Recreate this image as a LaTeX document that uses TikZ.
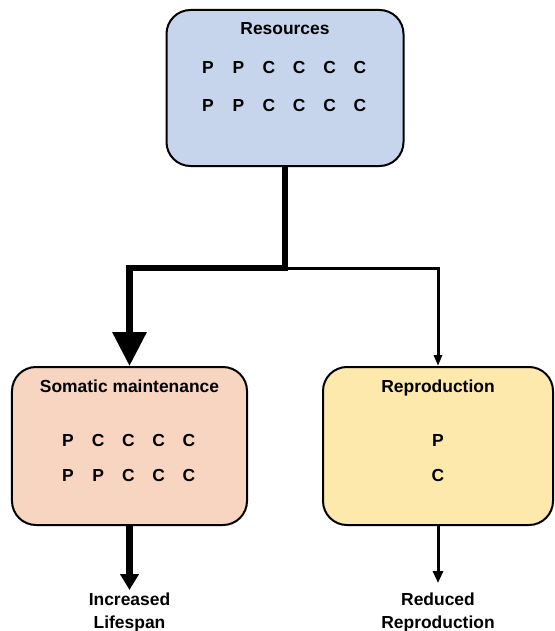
\documentclass[tikz,border=0pt]{standalone}
\usepackage{fontspec}
\setmainfont{Liberation Sans}
\usetikzlibrary{arrows.meta}
\definecolor{resblue}{HTML}{C6D5EC}
\definecolor{sompink}{HTML}{F7D5C1}
\definecolor{repyellow}{HTML}{FEE9AC}
\begin{document}
\begin{tikzpicture}[x=1bp,y=-1bp,
  box/.style={draw=black, line width=2bp, rounded corners=24bp, inner sep=0pt},
  txt/.style={font=\fontsize{17.5}{23}\selectfont\bfseries, inner sep=0pt, anchor=base},
  lbl/.style={font=\fontsize{17.5}{23}\selectfont\bfseries, inner sep=0pt, anchor=north, align=center},
  thickline/.style={line width=6.5bp, line join=miter},
  thinline/.style={line width=3bp, line join=miter}
]
\useasboundingbox (0,0) rectangle (555,631);

% boxes
\node[box, fill=resblue, minimum width=237bp, minimum height=156bp] (res) at (285,88) {};
\node[box, fill=sompink, minimum width=235bp, minimum height=158bp] (som) at (129.5,446) {};
\node[box, fill=repyellow, minimum width=230bp, minimum height=158bp] (rep) at (438,446) {};

% titles
\node[txt] (restitle) at (285,35) {Resources};
\node[txt] (somtitle) at (129.5,392) {Somatic maintenance};
\node[txt] (reptitle) at (438,392) {Reproduction};

% resource letters
\foreach \l [count=\i] in {P,P,C,C,C,C}
  \node[txt] (ra\i) at ({208+30.4*(\i-1)},74) {\l};
\foreach \l [count=\i] in {P,P,C,C,C,C}
  \node[txt] (rb\i) at ({208+30.4*(\i-1)},112) {\l};

% somatic letters
\foreach \l [count=\i] in {P,C,C,C,C}
  \node[txt] (sa\i) at ({68+30.2*(\i-1)},446) {\l};
\foreach \l [count=\i] in {P,P,C,C,C}
  \node[txt] (sb\i) at ({68+30.2*(\i-1)},481) {\l};

% reproduction letters
\node[txt] (rpa) at (438,446) {P};
\node[txt] (rpb) at (438,481) {C};

% outcome labels
\node[lbl] (life) at (129.5,593) {Increased\\Lifespan};
\node[lbl] (redrep) at (438,593) {Reduced\\Reproduction};

% connectors
\coordinate (j) at (285,268);
\draw[thinline, -{Triangle[width=8bp,length=11bp]}] (j) -| (rep.north);
\draw[thickline, -{Triangle[width=33bp,length=34bp]}] (res.south) -- (j) -| (som.north);
\draw[line width=7bp, -{Triangle[width=18bp,length=16bp]}, shorten >=3bp] (som.south) -- (life.north);
\draw[line width=3bp, -{Triangle[width=10bp,length=12bp]}, shorten >=10bp] (rep.south) -- (redrep.north);
\end{tikzpicture}
\end{document}
